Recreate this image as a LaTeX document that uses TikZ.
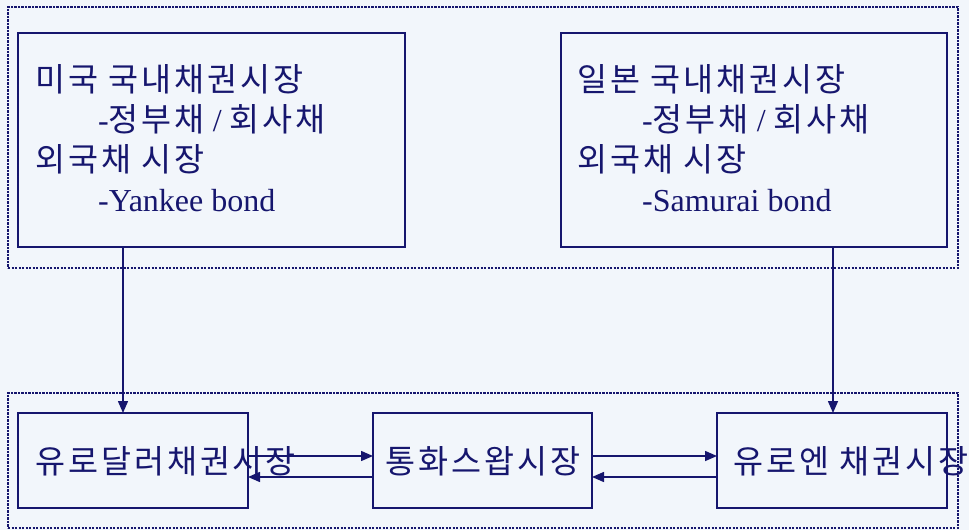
\documentclass[tikz,border=0pt]{standalone}
\usepackage{fontspec}
\setmainfont{Liberation Serif}
\newfontfamily\kr[LetterSpace=9,Scale=1.02]{Noto Sans CJK KR}
\usetikzlibrary{arrows.meta}
\definecolor{navy}{RGB}{22,22,110}
\definecolor{bgc}{RGB}{242,246,251}
\tikzset{
  box/.style={draw=navy, line width=1.4pt, outer sep=0pt, inner sep=0pt, anchor=north west},
  group/.style={draw=navy, line width=2.2pt, dash pattern=on 2.2pt off 1.3pt, outer sep=0pt, inner sep=0pt, anchor=north west},
  txt/.style={anchor=base west, inner sep=0pt, text=navy, font=\fontsize{32}{38}\selectfont},
  arr/.style={draw=navy, line width=1.5pt, -{Triangle[length=12pt,width=10pt]}},
}
\begin{document}
\begin{tikzpicture}[x=1pt,y=-1pt]
\useasboundingbox (0,0) rectangle (969,530);
\fill[bgc] (0,0) rectangle (969,530);
% groups
\node[group, minimum width=950pt, minimum height=261pt] (gtop) at (8,7) {};
\node[group, minimum width=950pt, minimum height=135pt] (gbot) at (8,393) {};
% top boxes
\node[box, minimum width=387pt, minimum height=214pt] (us) at (18,33) {};
\node[box, minimum width=386pt, minimum height=214pt] (jp) at (561,33) {};
% bottom boxes
\node[box, minimum width=230pt, minimum height=95pt] (ed) at (18,413) {};
\node[box, minimum width=219pt, minimum height=95pt] (sw) at (373,413) {};
\node[box, minimum width=230pt, minimum height=95pt] (ey) at (717,413) {};
% texts top-left
\node[txt] (us1) at (35,91) {\kr 미국 국내채권시장};
\node[txt] (us2) at (98,131) {-{\kr 정부채} / {\kr 회사채}};
\node[txt] (us3) at (35,171) {\kr 외국채 시장};
\node[txt] (us4) at (98,211) {-Yankee bond};
% texts top-right
\node[txt] (jp1) at (577,91) {\kr 일본 국내채권시장};
\node[txt] (jp2) at (642,131) {-{\kr 정부채} / {\kr 회사채}};
\node[txt] (jp3) at (577,171) {\kr 외국채 시장};
\node[txt] (jp4) at (642,211) {-Samurai bond};
% bottom texts
\node[txt] (edt) at (35,473) {\kr 유로달러채권시장};
\node[txt] (swt) at (385,473) {\kr 통화스왑시장};
\node[txt] (eyt) at (733,473) {\kr 유로엔 채권시장};
% vertical arrows
\draw[arr] (us.south -| 123,0) -- (ed.north -| 123,0);
\draw[arr] (jp.south -| 833,0) -- (ey.north -| 833,0);
% horizontal arrows
\draw[arr] (ed.east |- 0,456) -- (sw.west |- 0,456);
\draw[arr] (sw.west |- 0,477) -- (ed.east |- 0,477);
\draw[arr] (sw.east |- 0,456) -- (ey.west |- 0,456);
\draw[arr] (ey.west |- 0,477) -- (sw.east |- 0,477);
\end{tikzpicture}
\end{document}
